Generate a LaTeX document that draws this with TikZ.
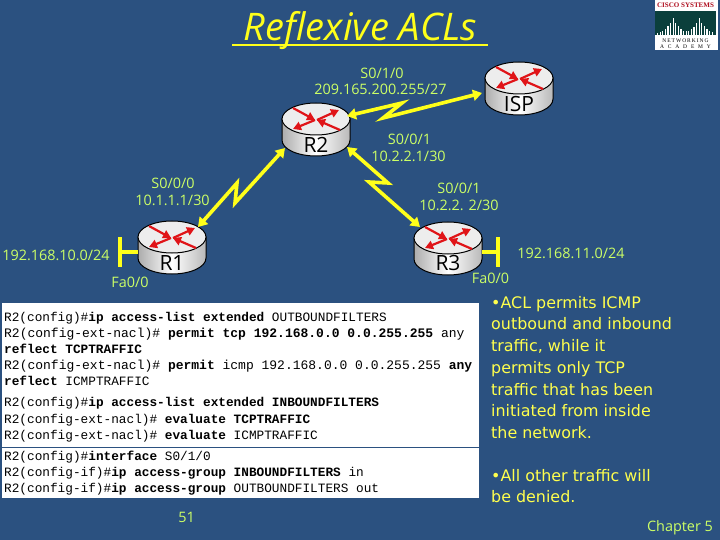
\documentclass[tikz,border=0pt]{standalone}
\usepackage{fontspec}
\usetikzlibrary{arrows.meta}
\setmainfont{DejaVu Sans}
\newfontfamily\labfont{Open Sans}
\newfontfamily\cfgfont{Liberation Mono}
\newfontfamily\logofont{Liberation Serif}
\newfontfamily\logospaceA[LetterSpace=18]{Liberation Serif}
\newfontfamily\logospaceB[LetterSpace=70]{Liberation Serif}
\definecolor{bgblue}{HTML}{2B5180}
\definecolor{labcol}{HTML}{CCFF66}
\definecolor{txtcol}{HTML}{FFFF4D}
\definecolor{linkcol}{HTML}{FFFF1A}
\definecolor{logogreen}{HTML}{0B3F3C}
\definecolor{logored}{HTML}{B01020}
\tikzset{
  routerspot/.style={minimum width=68pt,minimum height=53pt,inner sep=0pt,outer sep=0pt},
  routername/.style={text=black,font=\labfont\fontsize{21}{21}\selectfont,inner sep=0pt},
  lab/.style={text=labcol,font=\labfont\fontsize{14.4}{16}\selectfont,inner sep=0pt},
  bullet/.style={text=txtcol,anchor=north west,align=left,inner sep=0pt,font=\fontsize{15.9}{21.7}\selectfont},
  serial/.style={draw=linkcol,line width=3.6pt,miter limit=10,{Triangle[length=9pt,width=11pt]}-{Triangle[length=9pt,width=11pt]}},
  redarrow/.style={draw={rgb,255:red,224;green,20;blue,24},line width=2.2pt,-{Triangle[length=8pt,width=8.5pt]}},
  ethbar/.style={fill=linkcol,minimum width=4pt,minimum height=30pt,inner sep=0pt,outer sep=0pt},
  ethline/.style={draw=linkcol,line width=4pt},
  cfg/.style={anchor=base west,inner sep=0pt,text=black,font=\cfgfont\fontsize{12.75}{14}\selectfont},
  cfgwide/.style={cfg,font=\cfgfont\fontsize{13}{14}\selectfont}
}
\newcommand{\routerat}[5]{% name, cx, top, label, label dy
  \begin{scope}[shift={(#2,#3)}]
    \path[draw=black,line width=1pt,left color=gray!65,right color=gray!55,middle color=white]
      (-34,16) -- (-34,37) .. controls (-34,46) and (-19,53) .. (0,53)
      .. controls (19,53) and (34,46) .. (34,37) -- (34,16) -- cycle;
    \draw[line width=1pt,fill=white!93!black] (0,16) ellipse (34 and 16);
    \draw[redarrow] (-23,5) -- (-1,17);
    \draw[redarrow] (1,17) -- (23,7);
    \draw[redarrow] (-1,17) -- (-23,26);
    \draw[redarrow] (24,27) -- (1,17);
    \node[routerspot] (#1) at (0,26.5) {};
    \node[routername] (#1name) at (0,#5) {#4};
  \end{scope}
}
\newcommand{\cfgline}[2]{\node[cfg] (cfg#1) at (4,#1) {#2};}
\newcommand{\cfgwideline}[2]{\node[cfgwide] (cfg#1) at (4,#1) {#2};}
\begin{document}
\begin{tikzpicture}[x=1pt,y=-1pt]
\useasboundingbox (0,0) rectangle (720,540);
\fill[bgblue] (0,0) rectangle (720,540);

% title
\node[text=linkcol,inner sep=0pt,font=\labfont\itshape\fontsize{38}{38}\selectfont] (title) at (360.5,31) {Reflexive ACLs};
\draw[linkcol,line width=2.6pt] (232,45) -- (488,45);

% logo
\node[fill=white,anchor=north west,minimum width=63pt,minimum height=50pt,inner sep=0pt,outer sep=0pt] (logo) at (655,0) {};
\fill[logogreen] (655,11) rectangle (716,35);
\foreach \h [count=\i from 0] in {2,3,4,6,9,12,17,12,9,6,4,4,4,6,8,12,17,12,9,6,4,3}
  \fill[white] (657+2.6*\i,35) rectangle (658.2+2.6*\i,35-\h);
\node[inner sep=0pt,text=logored] (logoa) at (685.5,5.5) {\resizebox{57pt}{!}{\logofont\bfseries CISCO SYSTEMS}};
\node[inner sep=0pt,text=black] (logob) at (685.5,40.5) {\logospaceA\fontsize{5.5}{6}\selectfont NETWORKING};
\node[inner sep=0pt,text=black] (logoc) at (685.5,47) {\logospaceB\fontsize{5.5}{6}\selectfont ACADEMY};

% routers
\routerat{isp}{519}{62}{ISP}{42}
\routerat{rtwo}{316}{103}{R2}{42}
\routerat{rone}{172}{221}{R1}{42}
\routerat{rthree}{448}{222}{R3}{41}

% serial links
\coordinate (ba) at (402,103);
\coordinate (bb) at (383,118);
\coordinate (bc) at (237,183);
\coordinate (bd) at (235,203);
\coordinate (be) at (388,183);
\coordinate (bf) at (369,182);
\draw[serial] ([xshift=31pt,yshift=13.5pt]rtwo.center) -- (ba) -- (bb) -- ([xshift=-37pt,yshift=-4.5pt]isp.center);
\draw[serial] ([xshift=26pt,yshift=20.5pt]rone.center) -- (bc) -- (bd) -- ([xshift=-31pt,yshift=-18.5pt]rtwo.center);
\draw[serial] ([xshift=31pt,yshift=-17.5pt]rtwo.center) -- (be) -- (bf) -- ([xshift=-28pt,yshift=21.5pt]rthree.center);

% ethernet
\node[ethbar] (ethl) at (120,252) {};
\node[ethbar] (ethr) at (498,252) {};
\draw[ethline] (ethl.center) -- (ethl.center -| rone.west);
\draw[ethline] (ethr.center) -- (ethr.center -| rthree.east);

% labels
\node[lab] (la) at (382,73) {S0/1/0};
\node[lab] (lb) at (380.5,89) {209.165.200.255/27};
\node[lab] (lc) at (409.5,139) {S0/0/1};
\node[lab] (ld) at (408.5,156) {10.2.2.1/30};
\node[lab] (le) at (173,183) {S0/0/0};
\node[lab] (lf) at (172.5,200) {10.1.1.1/30};
\node[lab] (lg) at (459,188) {S0/0/1};
\node[lab] (lh) at (459,205) {10.2.2. 2/30};
\node[lab] (li) at (56,255) {192.168.10.0/24};
\node[lab] (lj) at (130,282) {Fa0/0};
\node[lab] (lk) at (571,253) {192.168.11.0/24};
\node[lab] (ll) at (490.5,278) {Fa0/0};
\node[lab] (lm) at (186.5,517) {51};
\node[lab] (ln) at (680,528) {Chapter 5};

% bullets
\node[bullet] (ba1) at (491,296) {•ACL permits ICMP\\outbound and inbound\\traffic, while it\\permits only TCP\\traffic that has been\\initiated from inside\\the network.};
\node[bullet] (ba2) at (491,469) {•All other traffic will\\be denied.};

% config box
\node[fill=white,anchor=north west,minimum width=477pt,minimum height=195pt,inner sep=0pt,outer sep=0pt] (cfgbox) at (2,303) {};
\draw[bgblue,line width=1pt] (0,447) -- (cfgbox.east |- 0,447);
\cfgline{321}{R2(config)\#\textbf{ip access-list extended} OUTBOUNDFILTERS}
\cfgwideline{337}{R2(config-ext-nacl)\# \textbf{permit tcp 192.168.0.0 0.0.255.255} any}
\cfgline{353}{\textbf{reflect TCPTRAFFIC}}
\cfgwideline{369}{R2(config-ext-nacl)\# \textbf{permit} icmp 192.168.0.0 0.0.255.255 \textbf{any}}
\cfgline{385}{\textbf{reflect} ICMPTRAFFIC}
\cfgline{406}{R2(config)\#\textbf{ip access-list extended INBOUNDFILTERS}}
\cfgline{423}{R2(config-ext-nacl)\# \textbf{evaluate TCPTRAFFIC}}
\cfgline{439}{R2(config-ext-nacl)\# \textbf{evaluate} ICMPTRAFFIC}
\cfgline{460}{R2(config)\#\textbf{interface} S0/1/0}
\cfgline{476}{R2(config-if)\#\textbf{ip access-group INBOUNDFILTERS} in}
\cfgline{492}{R2(config-if)\#\textbf{ip access-group} OUTBOUNDFILTERS out}
\end{tikzpicture}
\end{document}
